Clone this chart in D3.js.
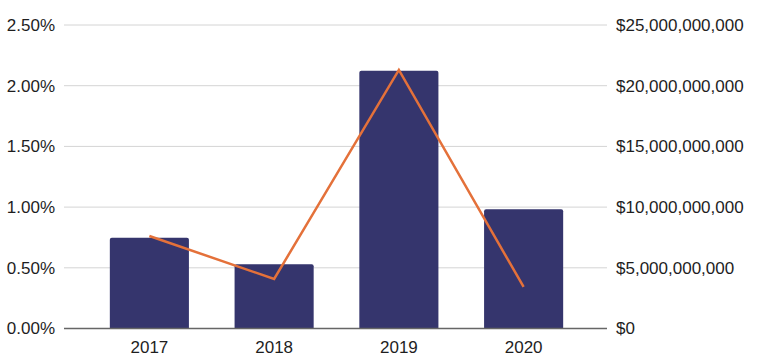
<!DOCTYPE html>
<html><head><meta charset="utf-8">
<script src="https://cdn.jsdelivr.net/npm/d3@7"></script>
<style>body{margin:0;background:#fff}svg{display:block}</style>
</head><body>
<script>
const years = ["2017", "2018", "2019", "2020"];
const dollarValues = [7.48e9, 5.29e9, 21.24e9, 9.82e9];
const percentValues = [0.762, 0.408, 2.13, 0.342];
const leftTicks = [0, 0.5, 1.0, 1.5, 2.0, 2.5];
const rightTicks = [0, 5e9, 10e9, 15e9, 20e9, 25e9];

const W = 764, H = 361;
const svg = d3.select("body").append("svg").attr("width", W).attr("height", H);
const gridL = 64, gridR = 607, y0 = 328.5, yTop = 25;
const x = d3.scaleBand().domain(years).range([87, 586]).paddingInner(0.366).paddingOuter(0.183);
const yL = d3.scaleLinear().domain([0, 2.5]).range([y0, yTop]);
const yR = d3.scaleLinear().domain([0, 25e9]).range([y0, yTop]);
const font = "'Liberation Sans', Arial, Helvetica, sans-serif";
const fs = 17;

// gridlines
svg.append("g").selectAll("line").data(leftTicks.filter(d => d > 0)).join("line")
  .attr("x1", gridL).attr("x2", gridR)
  .attr("y1", d => yL(d)).attr("y2", d => yL(d))
  .attr("stroke", "#d4d4d4").attr("stroke-width", 1);

// left axis
const axL = d3.axisLeft(yL).tickValues(leftTicks).tickFormat(d => d3.format(".2f")(d) + "%").tickSize(0).tickPadding(0);
const gL = svg.append("g").attr("transform", "translate(55,0)").call(axL);
gL.select(".domain").remove();
gL.selectAll("text").attr("font-family", font).attr("font-size", fs).attr("fill", "#1e1e1e");

// right axis
const axR = d3.axisRight(yR).tickValues(rightTicks).tickFormat(d => "$" + d3.format(",")(d)).tickSize(0).tickPadding(0);
const gR = svg.append("g").attr("transform", "translate(616,0)").call(axR);
gR.select(".domain").remove();
gR.selectAll("text").attr("font-family", font).attr("font-size", fs).attr("fill", "#1e1e1e");

// bars with rounded top corners
const r = 2;
svg.append("g").selectAll("path").data(years).join("path")
  .attr("d", (d, i) => {
    const x0 = x(d), w = x.bandwidth(), yt = yR(dollarValues[i]);
    return `M${x0},${y0}V${yt + r}Q${x0},${yt} ${x0 + r},${yt}H${x0 + w - r}Q${x0 + w},${yt} ${x0 + w},${yt + r}V${y0}Z`;
  })
  .attr("fill", "#35356d");

// baseline
svg.append("line").attr("x1", gridL).attr("x2", gridR).attr("y1", y0).attr("y2", y0)
  .attr("stroke", "#666").attr("stroke-width", 1.5);

// x axis labels
const axX = d3.axisBottom(x).tickSize(0).tickPadding(0);
const gX = svg.append("g").attr("transform", `translate(0,${y0})`).call(axX);
gX.select(".domain").remove();
gX.selectAll("text").attr("font-family", font).attr("font-size", fs).attr("fill", "#1e1e1e")
  .attr("dy", null).attr("y", 24);

// line
const line = d3.line().x((d, i) => x(years[i]) + x.bandwidth() / 2).y(d => yL(d));
svg.append("path").datum(percentValues).attr("d", line)
  .attr("fill", "none").attr("stroke", "#e4713a").attr("stroke-width", 2.5).attr("stroke-linejoin", "miter");
</script>
</body></html>
